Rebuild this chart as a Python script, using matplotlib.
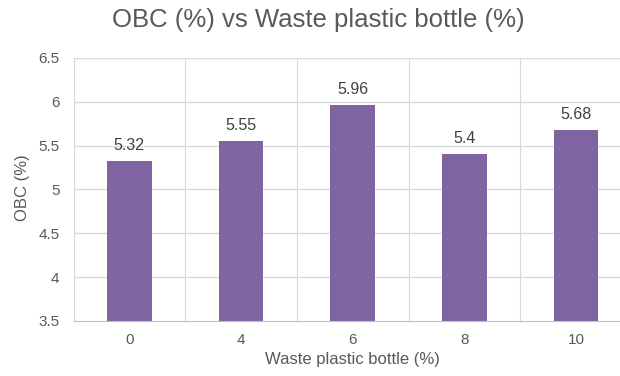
import matplotlib.pyplot as plt

categories = ["0", "4", "6", "8", "10"]
obc_values = [5.32, 5.55, 5.96, 5.4, 5.68]
value_labels = ["5.32", "5.55", "5.96", "5.4", "5.68"]

text_color = "#595959"
bar_color = "#8064A2"
grid_color = "#D9D9D9"

plt.rcParams['font.family'] = ['Liberation Sans', 'DejaVu Sans']

fig = plt.figure(figsize=(6.2, 3.76), dpi=100)
ax = fig.add_axes([73.5 / 620, 1 - 321 / 376, (632 - 73.5) / 620, (321 - 58) / 376])

x = list(range(len(categories)))
bars = ax.bar(x, obc_values, width=0.4, color=bar_color, zorder=3)

# value labels above bars
for xi, v, lab in zip(x, obc_values, value_labels):
    ax.annotate(lab, (xi, v), xytext=(0, 6), textcoords="offset points",
                ha="center", va="bottom", fontsize=11.5, color="#404040")

ax.set_xlim(-0.5, len(categories) - 0.5)
ax.set_ylim(3.5, 6.5)
ax.set_yticks([3.5, 4, 4.5, 5, 5.5, 6, 6.5])
ax.set_yticklabels(["3.5", "4", "4.5", "5", "5.5", "6", "6.5"])
ax.set_xticks(x)
ax.set_xticklabels(categories)

# Excel-style grid: horizontal at ticks, vertical between categories
for yv in [4, 4.5, 5, 5.5, 6, 6.5]:
    ax.axhline(yv, color=grid_color, lw=1, zorder=1)
for xv in [-0.5, 0.5, 1.5, 2.5, 3.5, 4.5]:
    ax.axvline(xv, color=grid_color, lw=0.8, zorder=1)

for s in ["top", "right", "left"]:
    ax.spines[s].set_visible(False)
ax.spines["bottom"].set_color("#BFBFBF")
ax.spines["bottom"].set_zorder(4)

ax.tick_params(axis="both", length=0, colors=text_color, labelsize=11)
ax.tick_params(axis="x", pad=9)
ax.tick_params(axis="y", pad=10)

ax.set_xlabel("Waste plastic bottle (%)", fontsize=12, color=text_color, labelpad=3)
fig.text(22 / 620, 1 - 188 / 376, "OBC (%)", rotation=90, fontsize=12,
         color=text_color, ha="center", va="center")
fig.text(318 / 620, 1 - 20 / 376, "OBC (%) vs Waste plastic bottle (%)",
         fontsize=18.5, color=text_color, ha="center", va="center")

fig.savefig("out.png", dpi=100)
